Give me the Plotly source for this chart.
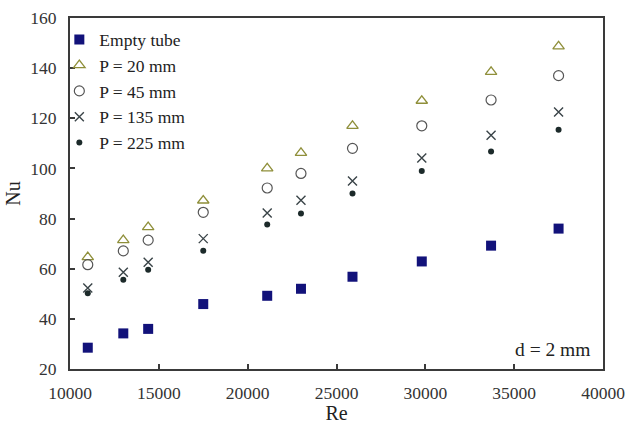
import plotly.graph_objects as go

re_vals = [11000, 13000, 14400, 17500, 21100, 23000, 25900, 29800, 33700, 37500]
nu_empty = [28.5, 34.2, 36.0, 45.9, 49.2, 52.0, 56.8, 62.9, 69.2, 76.0]
nu_p20 = [64.6, 71.4, 76.6, 87.2, 100.0, 106.2, 117.0, 127.0, 138.5, 148.7]
nu_p45 = [61.6, 67.1, 71.4, 82.5, 92.2, 98.0, 108.0, 117.0, 127.3, 137.0]
nu_p135 = [52.3, 58.6, 62.6, 72.0, 82.2, 87.3, 95.0, 104.2, 113.2, 122.5]
nu_p225 = [50.2, 55.6, 59.6, 67.2, 77.6, 82.0, 90.0, 99.0, 106.8, 115.4]

names = ["Empty tube", "P = 20 mm", "P = 45 mm", "P = 135 mm", "P = 225 mm"]
x_ticks = [10000, 15000, 20000, 25000, 30000, 35000, 40000]
x_ticktext = ["10000", "15000", "20000", "25000", "30000", "35000", "40000"]
y_ticks = [20, 40, 60, 80, 100, 120, 140, 160]

FONT = "Liberation Serif, Times New Roman, serif"

fig = go.Figure()
styles = [
    (nu_empty, dict(symbol="square", size=10, color="#12127a", line=dict(width=0))),
    (nu_p20, dict(symbol="triangle-up-open", size=10, color="#8f8f3a", line=dict(width=1.3, color="#8f8f3a"))),
    (nu_p45, dict(symbol="circle-open", size=10, color="#555555", line=dict(width=1.2, color="#555555"))),
    (nu_p135, dict(symbol="x-thin-open", size=9, color="#3a4448", line=dict(width=1.4, color="#3a4448"))),
    (nu_p225, dict(symbol="circle", size=6, color="#1c2a2a", line=dict(width=0))),
]
for i, (ys, mk) in enumerate(styles):
    fig.add_trace(go.Scatter(
        x=re_vals, y=ys, mode="markers", name=names[i], marker=mk,
        legendgroup=f"g{i}",
    ))

axis_common = dict(
    showline=True, linecolor="#3a3a3a", linewidth=2, mirror=True,
    ticks="inside", ticklen=5, tickwidth=1.5, tickcolor="#3a3a3a",
    showgrid=False, zeroline=False, automargin=False,
    tickfont=dict(family=FONT, size=17.5, color="#333333"),
)

fig.update_layout(
    width=629, height=424,
    margin=dict(l=70, r=26, t=18, b=55, autoexpand=False),
    paper_bgcolor="white", plot_bgcolor="white",
    font=dict(family=FONT, color="#222222"),
    xaxis=dict(range=[10000, 40000], tickvals=x_ticks, ticktext=x_ticktext,
               ticklabelstandoff=7,
               title=dict(text="Re", font=dict(family=FONT, size=20, color="#222222"), standoff=0),
               **axis_common),
    yaxis=dict(range=[20, 160], tickvals=y_ticks,
               ticklabelstandoff=8,
               title=dict(text="Nu", font=dict(family=FONT, size=20, color="#222222"), standoff=4),
               **axis_common),
    legend=dict(x=-0.02, y=0.99, xanchor="left", yanchor="top",
                font=dict(family=FONT, size=17.5, color="#222222"),
                bgcolor="rgba(0,0,0,0)", tracegroupgap=0, itemwidth=30),
    showlegend=True,
    annotations=[dict(text="d = 2 mm", x=0.98, y=0.02, xref="paper", yref="paper",
                      xanchor="right", yanchor="bottom", showarrow=False,
                      font=dict(family=FONT, size=19.5, color="#222222"))],
)

# remove the default 8px page margin so the 629x424 figure fills the window exactly
fig.write_html("out.html",
               config={"displayModeBar": False},
               post_script="document.body.style.margin='0';document.body.style.overflow='hidden';")
